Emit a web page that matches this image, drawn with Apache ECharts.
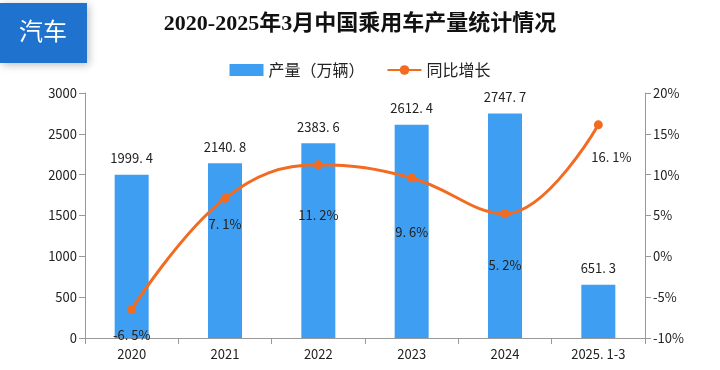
<!DOCTYPE html>
<html><head><meta charset="utf-8">
<script src="https://cdn.jsdelivr.net/npm/echarts@6/dist/echarts.min.js"></script>
<style>html,body{margin:0;padding:0;background:#fff}#c{width:720px;height:370px}</style>
</head><body><div id="c"></div>
<script>
const categories = ['2020','2021','2022','2023','2024','2025.1-3'];
const categoryLabels = ['2020','2021','2022','2023','2024','2025. 1-3'];
const production = [1999.4, 2140.8, 2383.6, 2612.4, 2747.7, 651.3];
const growth = [-6.5, 7.1, 11.2, 9.6, 5.2, 16.1];
const growthLabels = ['-6. 5%','7. 1%','11. 2%','9. 6%','5. 2%','16. 1%'];
const growthLabelOffsets = [[0,26],[0,26],[0,50],[0,54],[0,51],[13,32]];
const prodLabels = ['1999. 4','2140. 8','2383. 6','2612. 4','2747. 7','651. 3'];

const font = '"Noto Sans CJK SC", "Noto Sans", sans-serif';
const chart = echarts.init(document.getElementById('c'));
chart.setOption({
  animation: false,
  textStyle: {fontFamily: font},
  title: {
    text: '2020-2025年3月中国乘用车产量统计情况',
    left: 'center', top: 8,
    textStyle: {fontSize: 22, fontWeight: 'bold', color: '#111',
      fontFamily: '"Liberation Serif", "Noto Sans CJK SC", serif'}
  },
  legend: {
    top: 57, left: 'center', itemGap: 22, itemWidth: 34, itemHeight: 12,
    textStyle: {fontSize: 16, color: '#222'},
    data: [{name: '产量（万辆）', icon: 'rect'}, {name: '同比增长'}]
  },
  graphic: [
    {type: 'rect', left: 0, top: 3, shape: {width: 87, height: 60},
     style: {fill: '#1f72cd', shadowBlur: 8, shadowColor: 'rgba(0,0,0,0.25)', shadowOffsetX: 2, shadowOffsetY: 2}},
    {type: 'text', left: 19, top: 19, style: {text: '汽车', fill: '#fff', font: '24px ' + font}}
  ],
  grid: {left: 85, right: 75, top: 93, bottom: 32},
  xAxis: {
    type: 'category', data: categories,
    axisLine: {lineStyle: {color: '#999'}},
    axisTick: {show: true, lineStyle: {color: '#999'}, length: 6},
    axisLabel: {fontSize: 13, color: '#222', margin: 10,
      formatter: (v, i) => categoryLabels[i]}
  },
  yAxis: [
    {type: 'value', min: 0, max: 3000, interval: 500,
     axisLine: {show: true, lineStyle: {color: '#999'}},
     axisTick: {show: true, lineStyle: {color: '#999'}, length: 6},
     splitLine: {show: false},
     axisLabel: {fontSize: 13, color: '#222', margin: 8, formatter: v => String(v)}},
    {type: 'value', min: -10, max: 20, interval: 5,
     axisLine: {show: true, lineStyle: {color: '#999'}},
     axisTick: {show: true, lineStyle: {color: '#999'}, length: 6},
     splitLine: {show: false},
     axisLabel: {fontSize: 13, color: '#222', margin: 8, formatter: v => v + '%'}}
  ],
  series: [
    {name: '产量（万辆）', type: 'bar', data: production, barWidth: 34,
     itemStyle: {color: '#3e9ef1'},
     label: {show: true, position: 'top', distance: 10, fontSize: 13, color: '#222',
       formatter: p => prodLabels[p.dataIndex]}},
    {name: '同比增长', type: 'line', yAxisIndex: 1, smooth: 0.4,
     data: growth.map((v, i) => ({value: v, label: {offset: growthLabelOffsets[i]}})),
     symbol: 'circle', symbolSize: 9,
     lineStyle: {color: '#f36b21', width: 3},
     itemStyle: {color: '#f36b21'},
     label: {show: true, position: 'inside', fontSize: 13, color: '#222',
       formatter: p => growthLabels[p.dataIndex]}}
  ]
});
</script></body></html>
